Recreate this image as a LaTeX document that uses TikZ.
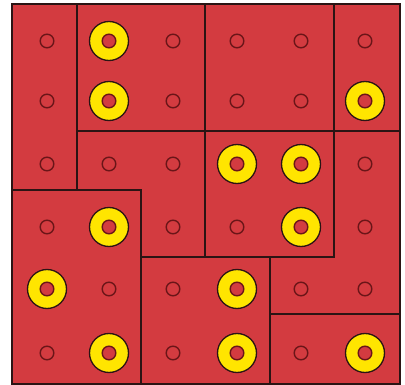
\documentclass[tikz,border=0pt]{standalone}
\definecolor{brick}{HTML}{D33B40}
\definecolor{ringy}{HTML}{FFE500}
\definecolor{edge}{HTML}{2B1414}
\definecolor{holeedge}{HTML}{6A1518}
\begin{document}
\begin{tikzpicture}[x=1pt,y=-1pt,
 piece/.style={fill=brick,draw=edge,line width=2.7pt,line join=miter},
 hole/.style={fill=brick,draw=holeedge,line width=1.4pt},
 washer/.style={fill=ringy,draw=edge,line width=1.3pt}]
\useasboundingbox (0,0) rectangle (405,385);
\fill[white] (0,0) rectangle (405,385);
% pieces
\draw[piece] (12,4) rectangle (77,190);
\draw[piece] (77,4) rectangle (205,131);
\draw[piece] (205,4) rectangle (334,131);
\draw[piece] (334,4) rectangle (400,131);
\draw[piece] (77,131) -- (205,131) -- (205,257) -- (141,257) -- (141,190) -- (77,190) -- cycle;
\draw[piece] (205,131) rectangle (334,257);
\draw[piece] (334,131) -- (400,131) -- (400,314) -- (270,314) -- (270,257) -- (334,257) -- cycle;
\draw[piece] (12,190) rectangle (141,384);
\draw[piece] (141,257) rectangle (270,384);
\draw[piece] (270,314) rectangle (400,384);
% washers
\foreach \c/\r in {2/1,2/2,6/2,4/3,5/3,2/4,5/4,1/5,4/5,2/6,4/6,6/6}{
  \pgfmathsetmacro\px{{47,109,173,237,301,365}[\c-1]}
  \pgfmathsetmacro\py{{41,101,164,227,289,353}[\r-1]}
  \draw[washer] (\px,\py) circle (19.5);
}
% holes
\foreach \px in {47,109,173,237,301,365}{
  \foreach \py in {41,101,164,227,289,353}{
    \draw[hole] (\px,\py) circle (6.8);
  }
}
\end{tikzpicture}
\end{document}
